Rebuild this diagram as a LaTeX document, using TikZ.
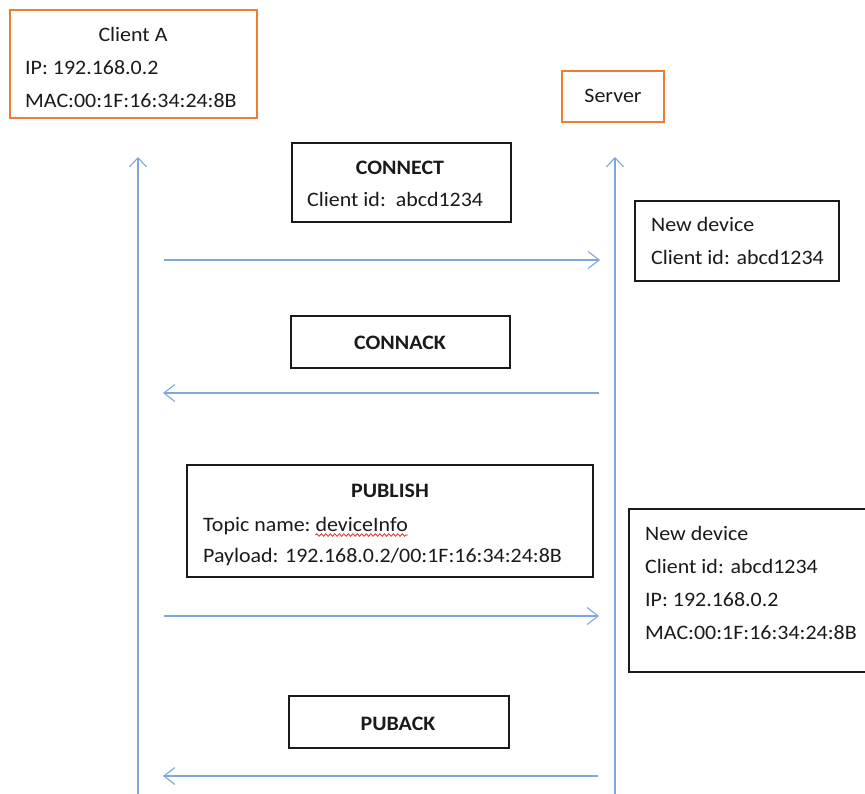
\documentclass[tikz,border=0pt]{standalone}
\usepackage{fontspec}
\setmainfont{Carlito}[FakeStretch=1.07]
\usetikzlibrary{arrows.meta,decorations.pathmorphing}

\definecolor{lifeblue}{HTML}{7EA8D8}
\definecolor{actororange}{HTML}{ED7D31}
\definecolor{inkblack}{HTML}{1A1A1A}
\definecolor{spellred}{HTML}{E0302A}

\tikzset{
  x=1pt, y=-1pt,
  actorbox/.style={draw=actororange, line width=1.3pt, rectangle, inner sep=0pt},
  msgbox/.style={draw=inkblack, line width=1.5pt, rectangle, inner sep=0pt},
  txt/.style={font=\fontsize{20.5}{24}\selectfont, text=inkblack, inner sep=0pt, anchor=base west},
  ctxt/.style={txt, anchor=base},
  btxt/.style={ctxt, font=\fontsize{20.5}{24}\selectfont\bfseries},
  lifeline/.style={draw=lifeblue, line width=1.4pt, -{Straight Barb[length=9pt,width=17pt,line width=1.1pt]}},
  message/.style={draw=lifeblue, line width=1.4pt, -{Straight Barb[length=11pt,width=17pt,line width=1.1pt]}},
  squiggle/.style={draw=spellred, line width=0.8pt, decorate,
    decoration={snake, segment length=4.5pt, amplitude=1.3pt}}
}

\begin{document}
\begin{tikzpicture}
\useasboundingbox[fill=white] (0,0) rectangle (865,794);

% actors
\node[actorbox, minimum width=247pt, minimum height=108pt] (clientbox) at (133.5,64) {};
\node[ctxt] (clientname) at (133,42) {Client A};
\node[txt] (clientip) at (25,75) {IP: 192.168.0.2};
\node[txt] (clientmac) at (25,108) {MAC:00:1F:16:34:24:8B};

\node[actorbox, minimum width=102pt, minimum height=51pt] (serverbox) at (613,96.5) {};
\node[ctxt] (servername) at (613,103) {Server};

% lifelines
\coordinate (clientbottom) at (138,796);
\coordinate (clienttop) at (138,157);
\coordinate (serverbottom) at (615,796);
\coordinate (servertop) at (615,157);
\draw[lifeline] (clientbottom) -- (clienttop);
\draw[lifeline] (serverbottom) -- (servertop);

% CONNECT
\node[msgbox, minimum width=219pt, minimum height=79pt] (connectbox) at (401.5,182.5) {};
\node[btxt] (connecttitle) at (400,175) {CONNECT};
\node[txt] (connectid) at (307,207) {Client id:\ \ abcd1234};
\coordinate (m1start) at (164,260);
\coordinate (m1end) at (600,260);
\draw[message] (m1start) -- (m1end);

\node[msgbox, minimum width=204pt, minimum height=80pt] (reg1box) at (737,241) {};
\node[txt] (reg1title) at (651,232) {New device};
\node[txt] (reg1id) at (651,265) {Client id: abcd1234};

% CONNACK
\node[msgbox, minimum width=219pt, minimum height=52pt] (connackbox) at (400.5,342) {};
\node[btxt] (connacktitle) at (400,349) {CONNACK};
\coordinate (m2start) at (599,393);
\coordinate (m2end) at (163,393);
\draw[message] (m2start) -- (m2end);

% PUBLISH
\node[msgbox, minimum width=406pt, minimum height=112pt] (publishbox) at (390,521) {};
\node[btxt] (publishtitle) at (390,497) {PUBLISH};
\node[txt] (topiclabel) at (203,531) {Topic name:};
\node[txt, anchor=base west] (topicvalue) at ([xshift=4.6pt]topiclabel.base east) {deviceInfo};
\coordinate (spellstart) at ([yshift=-4pt]topicvalue.base west);
\coordinate (spellend) at ([yshift=-4pt]topicvalue.base east);
\draw[squiggle] (spellstart) -- (spellend);
\node[txt] (payload) at (203,562) {Payload: 192.168.0.2/00:1F:16:34:24:8B};
\coordinate (m3start) at (164,616);
\coordinate (m3end) at (599,616);
\draw[message] (m3start) -- (m3end);

\node[msgbox, minimum width=240pt, minimum height=163pt] (reg2box) at (749,590.5) {};
\node[txt] (reg2title) at (645,540) {New device};
\node[txt] (reg2id) at (645,573) {Client id: abcd1234};
\node[txt] (reg2ip) at (645,606) {IP: 192.168.0.2};
\node[txt] (reg2mac) at (645,639) {MAC:00:1F:16:34:24:8B};

% PUBACK
\node[msgbox, minimum width=220pt, minimum height=52pt] (pubackbox) at (399,722) {};
\node[btxt] (pubacktitle) at (398,730) {PUBACK};
\coordinate (m4start) at (598,776);
\coordinate (m4end) at (163,776);
\draw[message] (m4start) -- (m4end);
\end{tikzpicture}
\end{document}
